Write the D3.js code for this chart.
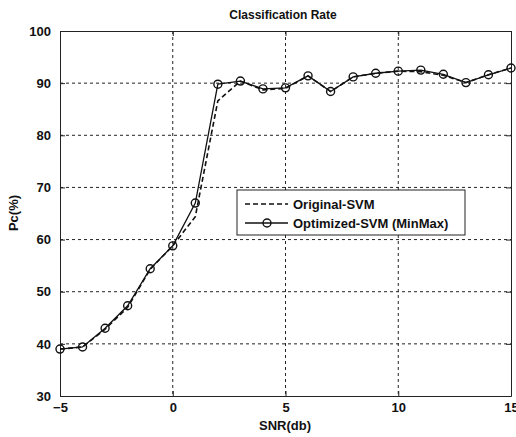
<!DOCTYPE html>
<html>
<head>
<meta charset="utf-8">
<script src="https://cdn.jsdelivr.net/npm/d3@7"></script>
<style>
  body { margin: 0; background: #fff; }
  text { font-family: "Liberation Sans", Arial, sans-serif; font-weight: bold; fill: #111; }
</style>
</head>
<body>
<div id="chart"></div>
<script>
// Data.
var snr = [-5, -4, -3, -2, -1, 0, 1, 2, 3, 4, 5, 6, 7, 8, 9, 10, 11, 12, 13, 14, 15];
var originalSvm = [39.0, 39.4, 42.8, 47.0, 54.3, 58.8, 64.4, 86.6, 90.4, 88.7, 89.0, 91.4, 88.4, 91.2, 91.9, 92.3, 92.2, 91.5, 90.1, 91.6, 92.9];
var optimizedSvm = [39.0, 39.4, 43.0, 47.3, 54.4, 58.8, 67.0, 89.8, 90.4, 88.9, 89.1, 91.4, 88.4, 91.2, 91.9, 92.3, 92.5, 91.7, 90.1, 91.6, 92.9];
var xTicks = [-5, 0, 5, 10, 15];
var yTicks = [30, 40, 50, 60, 70, 80, 90, 100];

var svgWidth = 516;
var svgHeight = 437;
var margin = { top: 31, right: 5, bottom: 41, left: 60 };
var chartWidth = svgWidth - margin.left - margin.right;
var chartHeight = svgHeight - margin.top - margin.bottom;

var svg = d3.select("#chart").append("svg").attr("width", svgWidth).attr("height", svgHeight);
var chartGroup = svg.append("g").attr("transform", `translate(${margin.left},${margin.top})`);

var xScale = d3.scaleLinear().domain([-5, 15]).range([0, chartWidth]);
var yScale = d3.scaleLinear().domain([30, 100]).range([chartHeight, 0]);

// Grid lines (dotted, like MATLAB).
chartGroup.selectAll(".vgrid").data(xTicks.slice(1, -1)).enter().append("line")
    .attr("x1", d => xScale(d)).attr("x2", d => xScale(d))
    .attr("y1", 0).attr("y2", chartHeight)
    .attr("stroke", "#222").attr("stroke-width", 1).attr("stroke-dasharray", "3,3");
chartGroup.selectAll(".hgrid").data(yTicks.slice(1, -1)).enter().append("line")
    .attr("x1", 0).attr("x2", chartWidth)
    .attr("y1", d => yScale(d)).attr("y2", d => yScale(d))
    .attr("stroke", "#222").attr("stroke-width", 1).attr("stroke-dasharray", "3,3");

// Axes with inward ticks.
var bottomAxis = d3.axisBottom(xScale).tickValues(xTicks).tickSizeInner(-5).tickSizeOuter(0).tickPadding(9);
var leftAxis = d3.axisLeft(yScale).tickValues(yTicks).tickSizeInner(-5).tickSizeOuter(0).tickPadding(9);
var topAxis = d3.axisTop(xScale).tickValues(xTicks).tickSizeInner(-5).tickSizeOuter(0).tickFormat("");
var rightAxis = d3.axisRight(yScale).tickValues(yTicks).tickSizeInner(-5).tickSizeOuter(0).tickFormat("");

var xAxis = chartGroup.append("g").attr("transform", `translate(0,${chartHeight})`).call(bottomAxis);
var yAxis = chartGroup.append("g").call(leftAxis);
chartGroup.append("g").call(topAxis);
chartGroup.append("g").attr("transform", `translate(${chartWidth},0)`).call(rightAxis);
chartGroup.selectAll(".domain").attr("stroke", "#222");
chartGroup.selectAll(".tick line").attr("stroke", "#222");
chartGroup.selectAll(".tick text").attr("font-size", "13px").attr("fill", "#111")
    .style("font-family", "'Liberation Sans', Arial, sans-serif").style("font-weight", "bold");
xAxis.selectAll(".tick text").attr("dy", "0.55em");

// Lines.
var line = d3.line().x((d, i) => xScale(snr[i])).y(d => yScale(d));
chartGroup.append("path").datum(originalSvm).attr("d", line)
    .attr("fill", "none").attr("stroke", "#111").attr("stroke-width", 1.6).attr("stroke-dasharray", "5,3");
chartGroup.append("path").datum(optimizedSvm).attr("d", line)
    .attr("fill", "none").attr("stroke", "#111").attr("stroke-width", 1.3);
chartGroup.selectAll(".marker").data(optimizedSvm).enter().append("circle")
    .attr("cx", (d, i) => xScale(snr[i])).attr("cy", d => yScale(d)).attr("r", 4)
    .attr("fill", "none").attr("stroke", "#111").attr("stroke-width", 1.4);

// Legend.
var legend = svg.append("g").attr("transform", "translate(237,190)");
legend.append("rect").attr("width", 228).attr("height", 45)
    .attr("fill", "#fff").attr("stroke", "#222").attr("stroke-width", 1);
legend.append("line").attr("x1", 8).attr("x2", 51).attr("y1", 14).attr("y2", 14)
    .attr("stroke", "#111").attr("stroke-width", 1.6).attr("stroke-dasharray", "5,3");
legend.append("line").attr("x1", 8).attr("x2", 51).attr("y1", 33).attr("y2", 33)
    .attr("stroke", "#111").attr("stroke-width", 1.3);
legend.append("circle").attr("cx", 30).attr("cy", 33).attr("r", 4)
    .attr("fill", "none").attr("stroke", "#111").attr("stroke-width", 1.4);
legend.append("text").attr("x", 56).attr("y", 19).attr("font-size", "13px").text("Original-SVM");
legend.append("text").attr("x", 56).attr("y", 38).attr("font-size", "13px").text("Optimized-SVM (MinMax)");

// Title and axis labels.
svg.append("text").attr("x", 283).attr("y", 19).attr("text-anchor", "middle")
    .attr("font-size", "12px").text("Classification Rate");
svg.append("text").attr("x", 285).attr("y", 430).attr("text-anchor", "middle")
    .attr("font-size", "13px").text("SNR(db)");
svg.append("text").attr("transform", "translate(18,213) rotate(-90)").attr("text-anchor", "middle")
    .attr("font-size", "13px").text("Pc(%)");
</script>
</body>
</html>
